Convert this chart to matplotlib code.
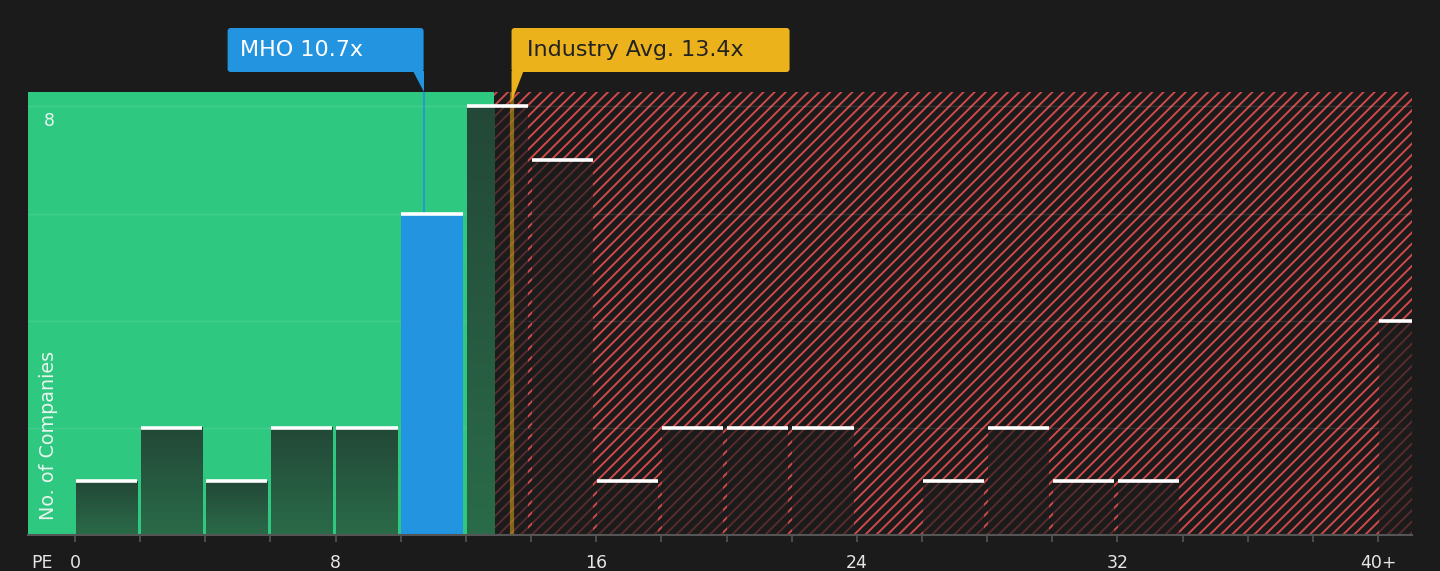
import numpy as np
import matplotlib
matplotlib.use('Agg')
import matplotlib.pyplot as plt
from matplotlib.patches import FancyBboxPatch, Polygon
from matplotlib.transforms import IdentityTransform

# ---- data ----
bin_left = [0, 2, 4, 6, 8, 10, 12, 14, 16, 18, 20, 22, 24, 26, 28, 30, 32, 34, 36, 38, 40]
counts = [1, 2, 1, 2, 2, 6, 8, 7, 1, 2, 2, 2, 0, 1, 2, 1, 1, 0, 0, 0, 4]
tick_values = [0, 8, 16, 24, 32, 40]
tick_texts = ['0', '8', '16', '24', '32', '40+']
company_name = 'MHO'
company_pe = 10.7
industry_pe = 13.4
green_end = 12.86
y_tick_label = 8

# ---- style ----
BG = '#1b1b1b'
GREEN = '#2ec880'
BLUE = '#2394e0'
GOLD = '#ebb21c'
RED = '#d04a4c'
GRAD_TOP = '#234837'
GRAD_BOT = '#2a6b49'
W, H = 1440, 571

plt.rcParams['hatch.linewidth'] = 1.4
fig = plt.figure(figsize=(W / 100, H / 100), dpi=100, facecolor=BG)
ax = fig.add_axes([28 / W, 36 / H, 1384 / W, 443 / H])
ax.set_facecolor(BG)
XL = (-1.443, 41.04)
YL = (0, 8.27)

ax.axvspan(XL[0], green_end, color=GREEN, lw=0, zorder=0)
ax.axvspan(green_end, XL[1], facecolor=BG, edgecolor=RED, hatch='///', lw=0, zorder=0)

for y in [2, 4, 6, 8]:
    ax.axhline(y, color='white', alpha=0.1, lw=1, zorder=1)

bw = 1.88
off = 0.02
c_top = np.array(matplotlib.colors.to_rgb(GRAD_TOP))
c_bot = np.array(matplotlib.colors.to_rgb(GRAD_BOT))
grad = np.linspace(0, 1, 64)[:, None, None]
grad_img = c_bot * (1 - grad) + c_top * grad

for left, h in zip(bin_left, counts):
    if h <= 0:
        continue
    x0 = left + off
    if left <= company_pe < left + 2:
        ax.bar(x0, h, bw, align='edge', color=BLUE, lw=0, zorder=2)
    else:
        ax.bar(x0, h, bw, align='edge', color=BG, alpha=0.65, lw=0, zorder=2)
        if x0 < green_end:
            ax.imshow(grad_img, extent=(x0, min(x0 + bw, green_end), 0, h),
                      origin='lower', aspect='auto', zorder=2.5, interpolation='bilinear')
    ax.hlines(h, x0, x0 + bw, color='white', lw=2.6, zorder=4)

ax.axvline(company_pe, color=BLUE, lw=1.5, alpha=0.85, zorder=3)
ax.axvline(industry_pe, color=GOLD, lw=3, alpha=0.5, zorder=3)

ax.set_xlim(*XL)
ax.set_ylim(*YL)
ax.set_xticks(np.arange(0, 42, 2))
ax.set_xticklabels([tick_texts[tick_values.index(v)] if v in tick_values else '' for v in range(0, 42, 2)])
ax.tick_params(axis='x', colors='#555555', length=5, width=1.2, pad=9, labelsize=12.5, labelcolor='#e6e6e6')
ax.set_yticks([])
for s in ['top', 'right', 'left']:
    ax.spines[s].set_visible(False)
ax.spines['bottom'].set_color('#555555')
ax.spines['bottom'].set_linewidth(1.5)
ax.spines['bottom'].set_zorder(5)

ax.text(0.0152, (y_tick_label - 0.1) / YL[1], str(y_tick_label), transform=ax.transAxes,
        ha='center', va='top', fontsize=12.5, color='#e8f5ee', zorder=6)
ax.text(0.0145, 0.034, 'No. of Companies', transform=ax.transAxes, rotation=90,
        ha='center', va='bottom', fontsize=13.8, color='#e8f5ee', zorder=6)
fig.text(42, H - 563, 'PE', transform=IdentityTransform(), ha='center', va='center',
         fontsize=12.5, color='#e6e6e6')

# ---- annotation boxes ----
idt = IdentityTransform()
box_top = H - 28
box_bot = H - 72
ax_top = H - 92
pc = ax.transData.transform((company_pe, 0))[0]
pi = ax.transData.transform((industry_pe, 0))[0]

mw = 196
fig.add_artist(FancyBboxPatch((pc - mw, box_bot), mw, box_top - box_bot,
                              boxstyle='round,pad=0,rounding_size=3', fc=BLUE, ec='none',
                              transform=idt))
fig.add_artist(Polygon([(pc - 11, box_bot + 1), (pc, box_bot + 1), (pc, ax_top)], closed=True,
                       fc=BLUE, ec='none', transform=idt))
fig.text(pc - mw + 12, (box_top + box_bot) / 2, f'{company_name} {company_pe}x', transform=idt,
         ha='left', va='center', fontsize=16, color='white')

iw = 278
fig.add_artist(FancyBboxPatch((pi, box_bot), iw, box_top - box_bot,
                              boxstyle='round,pad=0,rounding_size=3', fc=GOLD, ec='none',
                              transform=idt))
fig.add_artist(Polygon([(pi, box_bot + 1), (pi + 12, box_bot + 1), (pi, ax_top - 10)], closed=True,
                       fc=GOLD, ec='none', transform=idt))
fig.text(pi + 15, (box_top + box_bot) / 2, f'Industry Avg. {industry_pe}x', transform=idt,
         ha='left', va='center', fontsize=16, color='#222222')

fig.savefig('out.png', dpi=100, facecolor=BG)
